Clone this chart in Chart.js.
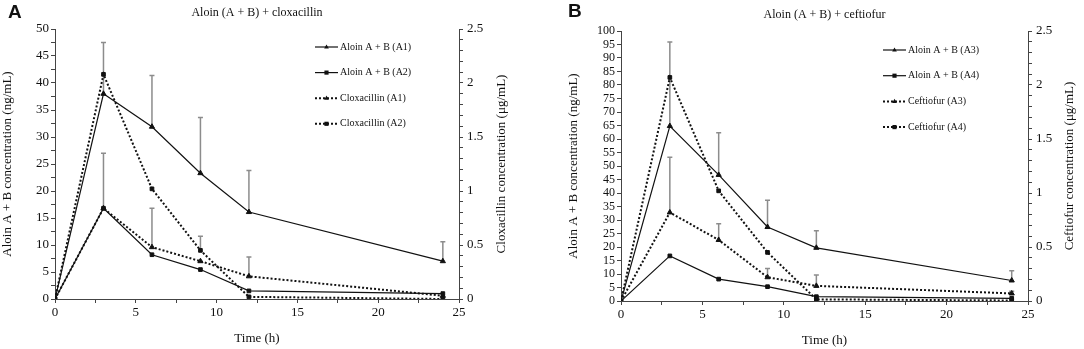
<!DOCTYPE html>
<html>
<head>
<meta charset="utf-8">
<script src="https://cdn.jsdelivr.net/npm/chart.js@4"></script>
<style>
  body { margin: 0; background: #fff; }
  #wrap { position: relative; width: 1084px; height: 349px; }
  canvas { position: absolute; top: 0; }
  .letter { position: absolute; font: bold 19px "Liberation Sans", Arial, sans-serif; color: #111; }
</style>
</head>
<body>
<div id="wrap">
  <canvas id="chartA" width="542" height="349" style="left:0"></canvas>
  <canvas id="chartB" width="542" height="349" style="left:542px"></canvas>
  <div class="letter" style="left:8px;top:1px">A</div>
  <div class="letter" style="left:568px;top:0px">B</div>
</div>
<script>
// sampling times (h)
const times = [0, 3, 6, 9, 12, 24];

// Panel A: aloin (ng/mL, left axis) and cloxacillin (ug/mL, right axis)
const aloinA1 = [0, 38.0, 31.9, 23.3, 16.1, 7.0];
const aloinA1Sd = [0, 9.5, 9.5, 10.3, 7.7, 3.6];
const aloinA2 = [0, 16.8, 8.2, 5.45, 1.5, 1.0];
const cloxA1 = [0, 0.84, 0.48, 0.35, 0.21, 0.03];
const cloxA1Sd = [0, 0.51, 0.36, 0, 0.18, 0];
const cloxA2 = [0, 2.08, 1.02, 0.45, 0.02, 0];
const cloxA2Sd = [0, 0, 0, 0.13, 0, 0];

// Panel B: aloin (ng/mL, left axis) and ceftiofur (ug/mL, right axis)
const aloinA3 = [0, 64.8, 46.7, 27.4, 19.7, 7.6];
const aloinA3Sd = [0, 31.1, 15.6, 9.9, 6.3, 3.6];
const aloinA4 = [0, 16.7, 8.1, 5.3, 1.6, 1.0];
const ceftA3 = [0, 0.82, 0.565, 0.22, 0.14, 0.07];
const ceftA3Sd = [0, 0.51, 0.15, 0.08, 0.10, 0.02];
const ceftA4 = [0, 2.07, 1.02, 0.45, 0.015, 0.005];

const FONT = '"Liberation Serif", "Times New Roman", serif';
const INK = '#111';
const AXIS = '#444';

const pts = vals => vals.map((v, i) => ({ x: times[i], y: v }));

function series(label, vals, axis, dotted, style, sd) {
  return {
    label: label,
    data: pts(vals),
    yAxisID: axis,
    sd: sd,
    borderColor: INK,
    backgroundColor: INK,
    borderWidth: dotted ? 2 : 1.2,
    borderDash: dotted ? [2, 2] : [],
    pointStyle: style,
    pointRadius: style === 'triangle' ? 3 : 2.6,
    pointBorderWidth: 1,
    tension: 0
  };
}

// gray upper error bars, drawn under the lines
const errorBars = {
  id: 'errorBars',
  beforeDatasetsDraw(chart) {
    const ctx = chart.ctx;
    const xs = chart.scales.x;
    ctx.save();
    ctx.strokeStyle = '#8c8c8c';
    ctx.lineWidth = 1.5;
    chart.data.datasets.forEach(ds => {
      if (!ds.sd) return;
      const ys = chart.scales[ds.yAxisID];
      ds.data.forEach((p, i) => {
        const sd = ds.sd[i];
        if (!sd) return;
        const x = xs.getPixelForValue(p.x);
        const y0 = ys.getPixelForValue(p.y);
        const y1 = ys.getPixelForValue(p.y + sd);
        ctx.beginPath();
        ctx.moveTo(x, y0);
        ctx.lineTo(x, y1);
        ctx.moveTo(x - 2.5, y1);
        ctx.lineTo(x + 2.5, y1);
        ctx.stroke();
      });
    });
    ctx.restore();
  }
};

function marker(ctx, style, x, y, r) {
  ctx.beginPath();
  if (style === 'triangle') {
    ctx.moveTo(x, y - r);
    ctx.lineTo(x + r * 0.9, y + r * 0.6);
    ctx.lineTo(x - r * 0.9, y + r * 0.6);
    ctx.closePath();
  } else {
    ctx.rect(x - r * 0.8, y - r * 0.8, r * 1.6, r * 1.6);
  }
  ctx.fill();
}

// legend inside the plot: line sample + marker + label
const sideLegend = {
  id: 'sideLegend',
  afterDraw(chart, args, opts) {
    const { ctx, chartArea } = chart;
    ctx.save();
    ctx.font = '10px ' + FONT;
    ctx.textBaseline = 'middle';
    chart.data.datasets.forEach((ds, i) => {
      const x = chartArea.left + opts.dx;
      const y = chartArea.top + opts.dy + i * opts.gap;
      ctx.strokeStyle = INK;
      ctx.lineWidth = ds.borderWidth;
      ctx.setLineDash(ds.borderDash);
      ctx.beginPath();
      ctx.moveTo(x, y);
      ctx.lineTo(x + 23, y);
      ctx.stroke();
      ctx.setLineDash([]);
      ctx.fillStyle = INK;
      marker(ctx, ds.pointStyle, x + 11.5, y, 2.6);
      ctx.fillText(ds.label, x + 25, y);
    });
    ctx.restore();
  }
};

// right axis title reads bottom-to-top like the left one
const rightTitle = {
  id: 'rightTitle',
  afterDraw(chart, args, opts) {
    const { ctx, chartArea } = chart;
    const s = chart.scales.y1;
    ctx.save();
    ctx.translate(s.left + opts.dx, (chartArea.top + chartArea.bottom) / 2);
    ctx.rotate(-Math.PI / 2);
    ctx.font = '13px ' + FONT;
    ctx.textAlign = 'center';
    ctx.textBaseline = 'middle';
    ctx.fillStyle = INK;
    ctx.fillText(opts.text, 0, 0);
    ctx.restore();
  }
};

function axisBase() {
  return {
    grid: { drawOnChartArea: false, drawTicks: true, tickLength: 4, color: AXIS },
    border: { display: true, color: AXIS, width: 1 },
    ticks: { color: INK, font: { family: FONT, size: 13 }, autoSkip: false, maxRotation: 0 }
  };
}

function makeChart(id, p) {
  const x = axisBase();
  Object.assign(x, {
    type: 'linear', min: 0, max: 25,
    afterFit: s => { s.height = p.xHeight; },
    title: { display: true, text: 'Time (h)', color: INK, font: { family: FONT, size: 13 }, padding: { top: 0, bottom: p.xTitlePad } }
  });
  x.ticks.stepSize = 2.5;
  x.ticks.padding = 2;
  x.ticks.callback = v => (v % 5 === 0 ? String(v) : '');

  const y = axisBase();
  Object.assign(y, {
    position: 'left', min: 0, max: p.yMax,
    afterFit: s => { s.width = p.yWidth; },
    title: { display: true, text: 'Aloin A + B concentration (ng/mL)', color: INK, font: { family: FONT, size: 13 }, padding: { top: p.yTitlePad, bottom: 0 } }
  });
  y.ticks.stepSize = p.yStep;
  y.ticks.padding = 2;
  y.ticks.font = { family: FONT, size: p.yFont };
  y.ticks.callback = v => (v % 5 === 0 ? String(v) : '');

  const y1 = axisBase();
  Object.assign(y1, {
    position: 'right', min: 0, max: 2.5,
    afterFit: s => { s.width = p.y1Width; }
  });
  y1.ticks.stepSize = 0.1;
  y1.ticks.padding = 4;
  y1.ticks.callback = v => {
    const r = Math.round(v * 10);
    return r % 5 === 0 ? String(r / 10) : '';
  };

  return new Chart(document.getElementById(id), {
    type: 'line',
    data: { datasets: p.datasets },
    options: {
      responsive: false,
      animation: false,
      devicePixelRatio: 1,
      layout: { padding: 0 },
      scales: { x: x, y: y, y1: y1 },
      plugins: {
        legend: { display: false },
        tooltip: { enabled: false },
        title: {
          display: true, text: p.title, color: INK, fullSize: false,
          font: { family: FONT, size: 12, weight: 'normal' },
          padding: { top: p.titleTop, bottom: 8.6 }
        },
        sideLegend: p.legend,
        rightTitle: { text: p.rightTitle, dx: p.rightTitleDx }
      }
    },
    plugins: [errorBars, sideLegend, rightTitle]
  });
}

makeChart('chartA', {
  title: 'Aloin (A + B) + cloxacillin',
  titleTop: 6,
  yMax: 50, yStep: 2.5, yFont: 13,
  xHeight: 50, xTitlePad: 3,
  yWidth: 55, yTitlePad: 0,
  y1Width: 83,
  rightTitle: 'Cloxacillin concentration (μg/mL)', rightTitleDx: 43,
  legend: { dx: 260, dy: 18, gap: 25.6 },
  datasets: [
    series('Aloin A + B (A1)', aloinA1, 'y', false, 'triangle', aloinA1Sd),
    series('Aloin A + B (A2)', aloinA2, 'y', false, 'rect', null),
    series('Cloxacillin (A1)', cloxA1, 'y1', true, 'triangle', cloxA1Sd),
    series('Cloxacillin (A2)', cloxA2, 'y1', true, 'rect', cloxA2Sd)
  ]
});

makeChart('chartB', {
  title: 'Aloin (A + B) + ceftiofur',
  titleTop: 8,
  yMax: 100, yStep: 5, yFont: 12,
  xHeight: 48, xTitlePad: 1,
  yWidth: 79, yTitlePad: 24,
  y1Width: 56,
  rightTitle: 'Ceftiofur concentration (μg/mL)', rightTitleDx: 42,
  legend: { dx: 262, dy: 19, gap: 25.7 },
  datasets: [
    series('Aloin A + B (A3)', aloinA3, 'y', false, 'triangle', aloinA3Sd),
    series('Aloin A + B (A4)', aloinA4, 'y', false, 'rect', null),
    series('Ceftiofur (A3)', ceftA3, 'y1', true, 'triangle', ceftA3Sd),
    series('Ceftiofur (A4)', ceftA4, 'y1', true, 'rect', null)
  ]
});
</script>
</body>
</html>
